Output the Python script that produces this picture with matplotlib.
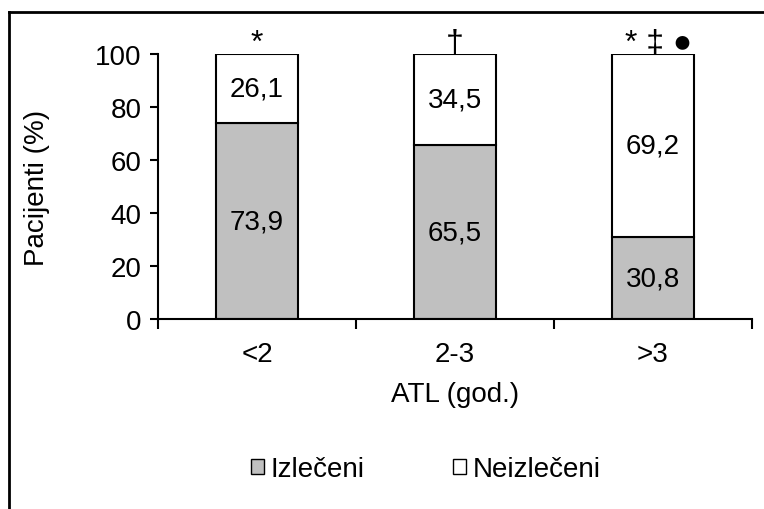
import matplotlib
matplotlib.use("Agg")
import matplotlib.pyplot as plt
from matplotlib.lines import Line2D
from matplotlib.patches import Patch

plt.rcParams['font.family'] = ['Liberation Sans', 'DejaVu Sans']

categories = ["<2", "2-3", ">3"]
izleceni = [73.9, 65.5, 30.8]
neizleceni = [26.1, 34.5, 69.2]
izleceni_labels = ["73,9", "65,5", "30,8"]
neizleceni_labels = ["26,1", "34,5", "69,2"]
significance = ["*", "\u2020", "* \u2021 \u25cf"]
yticks = [0, 20, 40, 60, 80, 100]

fig = plt.figure(figsize=(7.64, 5.10), dpi=100)
ax = fig.add_axes([158/764, 1 - 320/510, (752 - 158)/764, (320 - 55)/510])

x = list(range(len(categories)))
w = 0.415
ax.bar(x, izleceni, width=w, color="#c0c0c0", edgecolor="black", linewidth=1.5)
ax.bar(x, neizleceni, width=w, bottom=izleceni, color="white", edgecolor="black", linewidth=1.5)

fs = 20
for i in x:
    ax.text(i, izleceni[i] / 2, izleceni_labels[i], ha="center", va="center", fontsize=fs)
    ax.text(i, izleceni[i] + neizleceni[i] / 2, neizleceni_labels[i], ha="center", va="center", fontsize=fs)
    ax.text(i + 0.03 * (i == 2), 104, significance[i], ha="center", va="center", fontsize=23)

ax.set_xlim(-0.5, 2.5)
ax.set_ylim(0, 100)
ax.set_yticks(yticks)
ax.tick_params(axis="y", labelsize=fs, direction="out", length=6, width=1.5, pad=6)
ax.set_xticks([-0.5, 0.5, 1.5, 2.5])
ax.set_xticklabels([])
ax.set_xticks(x, minor=True)
ax.set_xticklabels(categories, minor=True, fontsize=fs)
ax.tick_params(axis="x", which="major", direction="out", length=7, width=1.5)
ax.tick_params(axis="x", which="minor", length=0, pad=16)
for s in ["top", "right"]:
    ax.spines[s].set_visible(False)
for s in ["left", "bottom"]:
    ax.spines[s].set_linewidth(1.5)
ax.set_ylabel("Pacijenti (%)", fontsize=fs, labelpad=32)
ax.set_xlabel("ATL (god.)", fontsize=fs, labelpad=10)

handles = [Patch(facecolor="#c0c0c0", edgecolor="black"), Patch(facecolor="white", edgecolor="black")]
fig.legend(handles, ["Izlečeni", "Neizlečeni"], loc="center", bbox_to_anchor=(426/764, 1 - 470/510),
           ncol=2, frameon=False, fontsize=fs, handlelength=0.45, handleheight=0.45,
           handletextpad=0.25, columnspacing=3.2)

fig.add_artist(Line2D([9/764, 9/764], [0, 1 - 13/510], color="black", lw=2, transform=fig.transFigure))
fig.add_artist(Line2D([9/764, 1], [1 - 13/510, 1 - 13/510], color="black", lw=2, transform=fig.transFigure))

fig.savefig("out.png", dpi=100)
